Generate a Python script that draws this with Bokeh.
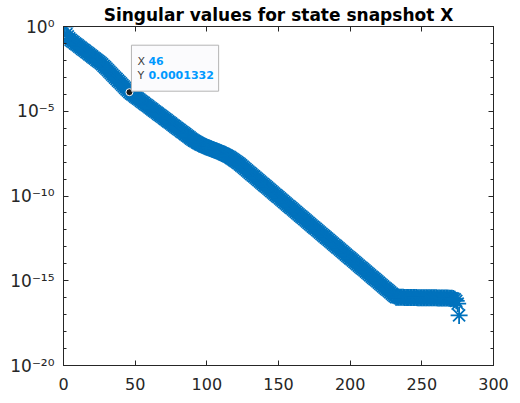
from bokeh.plotting import figure
from bokeh.models import FixedTicker, LinearAxis, Label, CustomJSTickFormatter
from bokeh.embed import file_html
from bokeh.resources import INLINE

# ---- data -------------------------------------------------------------
sv = [
    1.0, 3.5e-1, 2.6e-1, 2.0e-1, 1.6e-1, 1.38e-1, 1.19e-1, 1.02e-1, 8.8e-2, 7.6e-2,
    6.5e-2, 5.6e-2, 4.8e-2, 4.2e-2, 3.6e-2, 3.1e-2, 2.7e-2, 2.3e-2, 2.0e-2, 1.7e-2,
    1.47e-2, 1.26e-2, 1.09e-2, 9.4e-3, 8.1e-3, 7.0e-3, 5.8e-3, 4.8e-3, 3.95e-3, 3.25e-3,
    2.65e-3, 2.17e-3, 1.77e-3, 1.45e-3, 1.18e-3, 9.7e-4, 8.0e-4, 6.5e-4, 5.4e-4, 4.4e-4,
    3.6e-4, 2.95e-4, 2.42e-4, 1.98e-4, 1.63e-4, 1.332e-4, 1.15e-4, 9.9e-5, 8.6e-5, 7.4e-5,
    6.4e-5, 5.5e-5, 4.8e-5, 4.1e-5, 3.55e-5, 3.07e-5, 2.65e-5, 2.29e-5, 1.98e-5, 1.71e-5,
    1.47e-5, 1.27e-5, 1.10e-5, 9.5e-6, 8.2e-6, 7.1e-6, 6.1e-6, 5.3e-6, 4.6e-6, 3.95e-6,
    3.41e-6, 2.95e-6, 2.54e-6, 2.2e-6, 1.9e-6, 1.64e-6, 1.41e-6, 1.22e-6, 1.05e-6, 9.1e-7,
    7.9e-7, 6.8e-7, 5.9e-7, 5.1e-7, 4.4e-7, 3.8e-7, 3.27e-7, 2.83e-7, 2.45e-7, 2.14e-7,
    1.87e-7, 1.65e-7, 1.46e-7, 1.31e-7, 1.17e-7, 1.06e-7, 9.70e-8, 8.89e-8, 8.18e-8, 7.59e-8,
    7.03e-8, 6.52e-8, 6.04e-8, 5.60e-8, 5.19e-8, 4.81e-8, 4.46e-8, 4.13e-8, 3.83e-8, 3.53e-8,
    3.24e-8, 2.96e-8, 2.69e-8, 2.42e-8, 2.17e-8, 1.94e-8, 1.72e-8, 1.51e-8, 1.32e-8, 1.15e-8,
    9.98e-9, 8.79e-9, 7.45e-9, 6.31e-9, 5.35e-9, 4.53e-9, 3.84e-9, 3.25e-9, 2.75e-9, 2.33e-9,
    1.98e-9, 1.67e-9, 1.42e-9, 1.20e-9, 1.02e-9, 8.63e-10, 7.31e-10, 6.19e-10, 5.25e-10, 4.45e-10,
    3.77e-10, 3.19e-10, 2.70e-10, 2.29e-10, 1.94e-10, 1.64e-10, 1.39e-10, 1.18e-10, 1.00e-10, 8.47e-11,
    7.18e-11, 6.08e-11, 5.15e-11, 4.37e-11, 3.70e-11, 3.13e-11, 2.65e-11, 2.25e-11, 1.91e-11, 1.61e-11,
    1.37e-11, 1.16e-11, 9.82e-12, 8.32e-12, 7.05e-12, 5.97e-12, 5.06e-12, 4.29e-12, 3.63e-12, 3.08e-12,
    2.61e-12, 2.21e-12, 1.87e-12, 1.58e-12, 1.34e-12, 1.14e-12, 9.64e-13, 8.17e-13, 6.92e-13, 5.86e-13,
    4.97e-13, 4.21e-13, 3.56e-13, 3.02e-13, 2.56e-13, 2.17e-13, 1.84e-13, 1.56e-13, 1.32e-13, 1.12e-13,
    9.46e-14, 8.02e-14, 6.79e-14, 5.75e-14, 4.88e-14, 4.13e-14, 3.50e-14, 2.96e-14, 2.51e-14, 2.13e-14,
    1.80e-14, 1.53e-14, 1.29e-14, 1.10e-14, 9.29e-15, 7.87e-15, 6.67e-15, 5.65e-15, 4.79e-15, 4.06e-15,
    3.44e-15, 2.91e-15, 2.47e-15, 2.09e-15, 1.77e-15, 1.50e-15, 1.27e-15, 1.08e-15, 9.12e-16, 7.73e-16,
    6.55e-16, 5.55e-16, 4.70e-16, 3.98e-16, 3.37e-16, 2.86e-16, 2.42e-16, 2.05e-16, 1.74e-16, 1.47e-16,
    1.25e-16, 1.08e-16, 1.06e-16, 1.06e-16, 1.05e-16, 1.05e-16, 1.05e-16, 1.04e-16, 1.04e-16, 1.04e-16,
    1.03e-16, 1.03e-16, 1.03e-16, 1.02e-16, 1.02e-16, 1.02e-16, 1.01e-16, 1.01e-16, 1.01e-16, 1.00e-16,
    1.00e-16, 9.98e-17, 9.95e-17, 9.93e-17, 9.9e-17, 9.88e-17, 9.85e-17, 9.82e-17, 9.8e-17, 9.77e-17,
    9.74e-17, 9.71e-17, 9.68e-17, 9.65e-17, 9.6e-17, 9.55e-17, 9.5e-17, 9.45e-17, 9.4e-17, 9.3e-17,
    9.2e-17, 8.9e-17, 8.0e-17, 6.5e-17, 4.5e-17, 9.0e-18,
]
index = list(range(1, len(sv) + 1))

x_ticks = [0, 50, 100, 150, 200, 250, 300]
y_ticks = [1e-20, 1e-15, 1e-10, 1e-5, 1e0]
y_minor = [1e-19, 1e-18, 1e-17, 1e-16, 1e-14, 1e-13, 1e-12, 1e-11,
           1e-9, 1e-8, 1e-7, 1e-6, 1e-4, 1e-3, 1e-2, 1e-1]

tip_x = [46]
tip_y = [1.332e-4]
tip_x_text = "46"
tip_y_text = "0.0001332"

title_text = "Singular values for state snapshot X"

# ---- styles -----------------------------------------------------------
BLUE = "#0072BD"
AX = "#262626"
FONT = "DejaVu Sans"

p = figure(
    frame_width=430, frame_height=339,
    x_range=(0, 300), y_range=(1e-20, 1e0), y_axis_type="log",
    output_backend="svg", toolbar_location=None,
    min_border_left=63, min_border_right=20, min_border_top=0, min_border_bottom=30,
)
p.grid.visible = False
p.outline_line_color = AX
p.outline_line_width = 1
p.background_fill_color = "white"
p.border_fill_color = "white"

p.title.text = title_text
p.title.align = "center"
p.title.text_font = FONT
p.title.text_font_size = "17px"
p.title.text_font_style = "bold"
p.title.text_color = "black"
p.title.standoff = 4

blank = CustomJSTickFormatter(code="return ''")
pow10 = CustomJSTickFormatter(code="""
const sup = {'-': '\\u207B', '0': '\\u2070', '1': '\\u00B9', '2': '\\u00B2', '3': '\\u00B3',
             '4': '\\u2074', '5': '\\u2075', '6': '\\u2076', '7': '\\u2077', '8': '\\u2078',
             '9': '\\u2079'};
const e = Math.round(Math.log10(tick));
return '10' + String(e).split('').map(c => sup[c]).join('');
""")

def style_axis(ax, labels=True):
    ax.axis_line_color = AX
    ax.axis_line_width = 1
    ax.major_tick_line_color = AX
    ax.minor_tick_line_color = AX
    ax.major_tick_in = 5
    ax.major_tick_out = 0
    ax.minor_tick_in = 3
    ax.minor_tick_out = 0
    ax.major_label_text_font = FONT
    ax.major_label_text_color = AX
    ax.major_label_text_font_size = "16px"
    if not labels:
        ax.formatter = blank
        ax.major_label_standoff = 0

xb = p.xaxis[0]
xb.ticker = FixedTicker(ticks=x_ticks)
style_axis(xb)
xb.major_label_standoff = 12

yl = p.yaxis[0]
yl.ticker = FixedTicker(ticks=y_ticks, minor_ticks=y_minor)
yl.formatter = pow10
style_axis(yl)
yl.major_label_text_font_size = "17px"
yl.major_label_standoff = 9

xt = LinearAxis(ticker=FixedTicker(ticks=x_ticks))
style_axis(xt, labels=False)
p.add_layout(xt, "above")

yr = LinearAxis(ticker=FixedTicker(ticks=y_ticks, minor_ticks=y_minor))
style_axis(yr, labels=False)
p.add_layout(yr, "right")

# ---- data -------------------------------------------------------------
p.scatter(index, sv, marker="asterisk", size=17, line_color=BLUE, line_width=1.8)

# ---- data tip ---------------------------------------------------------
p.scatter(tip_x, tip_y, marker="circle", size=7, fill_color="#1a1a1a",
          line_color="white", line_width=1)

BOXBG = "#fbfbfd"
box_kw = dict(x=tip_x[0], y=tip_y[0], x_offset=2, y_offset=1, anchor="bottom_left",
              text="Y " + tip_y_text, text_font=FONT, text_font_size="11px",
              text_font_style="bold", text_color=BOXBG,
              background_fill_color=BOXBG, background_fill_alpha=1.0,
              border_line_color="#b4b4b4", border_line_width=1)
try:
    box = Label(padding=dict(left=5, right=5, top=17, bottom=16), **box_kw)
except Exception:
    box = Label(padding=8, **box_kw)
p.add_layout(box)

for txt, dx, dy, bold, col in [
    ("X", 8, 31, False, "#404040"),
    (tip_x_text, 19, 31, True, "#0099FF"),
    ("Y", 8, 17, False, "#404040"),
    (tip_y_text, 19, 17, True, "#0099FF"),
]:
    p.add_layout(Label(x=tip_x[0], y=tip_y[0], x_offset=dx, y_offset=dy, text=txt,
                       text_font=FONT, text_font_size="11px",
                       text_font_style="bold" if bold else "normal",
                       text_color=col, text_baseline="alphabetic", text_align="left"))

open("out.html", "w").write(file_html(p, INLINE))
